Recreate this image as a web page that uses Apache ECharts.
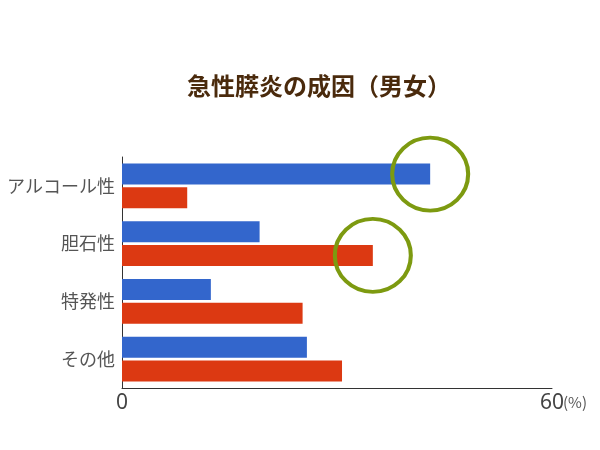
<!DOCTYPE html>
<html>
<head>
<meta charset="utf-8">
<script src="https://cdn.jsdelivr.net/npm/echarts@6/dist/echarts.min.js"></script>
<style>
  html, body { margin: 0; padding: 0; background: #fff; }
  #main { width: 600px; height: 450px; }
</style>
</head>
<body>
<div id="main"></div>
<script>
    // 成因カテゴリ
    var categories = ['アルコール性', '胆石性', '特発性', 'その他'];
    // 男性 / 女性 (%)
    var maleValues = [43.0, 19.2, 12.4, 25.8];
    var femaleValues = [9.1, 35.0, 25.2, 30.7];
    var xTicks = [0, 60];

    var myChart = echarts.init(document.getElementById('main'));

    // 注目の丸
    var ring = {
        symbol: 'circle',
        symbolSize: [76, 73],
        itemStyle: {
            color: 'rgba(0,0,0,0)',
            borderColor: '#7d9a10',
            borderWidth: 4
        },
        label: { show: false },
        data: [{ type: 'max' }]
    };

    var option = {
        animation: false,
        title: {
            text: '急性膵炎の成因（男女）',
            left: 182,
            top: 69,
            textStyle: {
                fontFamily: 'Noto Sans CJK JP',
                fontSize: 24,
                fontWeight: 'bold',
                color: '#4a2a0c'
            }
        },
        grid: {
            left: 122,
            right: 48,
            top: 157,
            bottom: 62
        },
        xAxis: {
            type: 'value',
            min: xTicks[0],
            max: xTicks[1],
            interval: xTicks[1] - xTicks[0],
            name: '(%)',
            nameLocation: 'end',
            nameGap: 11,
            nameMoveOverlap: false,
            nameTextStyle: {
                fontFamily: 'Noto Sans CJK JP',
                fontSize: 15,
                color: '#555',
                verticalAlign: 'top',
                padding: [7, 0, 0, 0]
            },
            axisLine: { show: true, lineStyle: { color: '#333', width: 1 } },
            axisTick: { show: false },
            splitLine: { show: false },
            axisLabel: {
                margin: 5,
                fontFamily: 'Noto Sans',
                fontSize: 21,
                color: '#444'
            }
        },
        yAxis: {
            type: 'category',
            data: categories,
            inverse: true,
            axisLine: { show: true, lineStyle: { color: '#333', width: 1 } },
            axisTick: { show: false },
            axisLabel: {
                margin: 7,
                fontFamily: 'Noto Sans CJK JP',
                fontSize: 18,
                color: '#555'
            }
        },
        series: [
            {
                name: '男性',
                type: 'bar',
                data: maleValues,
                barWidth: 21,
                barGap: '12%',
                itemStyle: { color: '#3366cc' },
                markPoint: ring
            },
            {
                name: '女性',
                type: 'bar',
                data: femaleValues,
                barWidth: 21,
                barGap: '12%',
                itemStyle: { color: '#dc3912' },
                markPoint: ring
            }
        ]
    };

    myChart.setOption(option);
</script>
</body>
</html>
